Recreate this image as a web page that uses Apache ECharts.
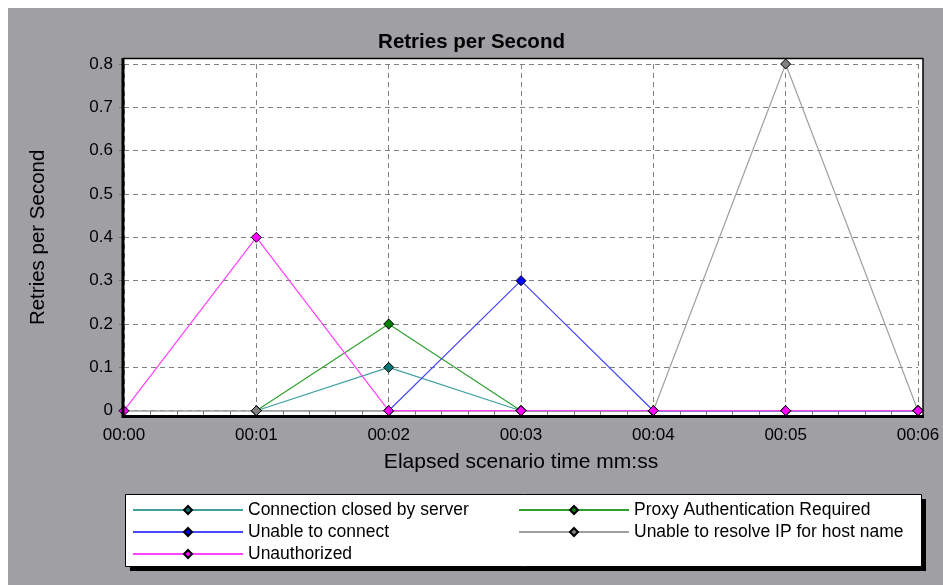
<!DOCTYPE html>
<html>
<head>
<meta charset="utf-8">
<script src="https://cdn.jsdelivr.net/npm/echarts@6/dist/echarts.min.js"></script>
<style>
html,body{margin:0;padding:0;background:#fff;}
#chart{width:943px;height:585px;}
</style>
</head>
<body>
<div id="chart"></div>
<script>
const categories = ['00:00','00:01','00:02','00:03','00:04','00:05','00:06'];
const yTicks = [0, 0.1, 0.2, 0.3, 0.4, 0.5, 0.6, 0.7, 0.8];
const connClosed   = [null, 0, 0.1, 0, 0, 0, 0];
const proxyAuth    = [null, 0, 0.2, 0, 0, 0, 0];
const unableConn   = [null, null, 0, 0.3, 0, 0, 0];
const unableResolve= [null, 0, 0, 0, 0, 0.8, 0];
const unauthorized = [0, 0.4, 0, 0, 0, 0, 0];
const seriesNames = ['Connection closed by server','Proxy Authentication Required','Unable to connect','Unable to resolve IP for host name','Unauthorized'];

const FONT = 'Liberation Sans, Arial, sans-serif';
function pairs(arr){ const out=[]; arr.forEach((v,i)=>{ if(v!==null) out.push([i,v]); }); return out; }
function mk(name, arr, lineColor, markColor){
  return {
    name: name, type: 'line', data: pairs(arr),
    symbol: 'diamond', symbolSize: 10, showSymbol: true,
    lineStyle: {color: lineColor, width: 1.2},
    itemStyle: {color: markColor, borderColor: '#000', borderWidth: 1},
    emphasis: {disabled: true}, animation: false, clip: false
  };
}
const chart = echarts.init(document.getElementById('chart'), null, {renderer:'canvas'});
const gL = 124, gR = 943-918, gT = 64, gB = 585-410.7;
const legendCommon = {
  orient: 'vertical', top: 501, itemWidth: 110, itemHeight: 10, itemGap: 4, itemTextGap: 5, padding: 0,
  textStyle: {fontFamily: FONT, fontSize: 17.5, color: '#000', lineHeight: 18}, z: 20, selectedMode: false
};
chart.setOption({
  backgroundColor: '#a0a0a4',
  animation: false,
  title: {text: 'Retries per Second', left: 'center', top: 27,
    textStyle: {fontFamily: 'Liberation Sans, Arial', fontWeight: 'bold', fontSize: 20.5, color: '#000'}},
  grid: {left: gL, right: gR, top: gT, bottom: gB},
  xAxis: [{
    type: 'value', min: 0, max: 6, interval: 1, offset: 6,
    name: 'Elapsed scenario time mm:ss', nameLocation: 'middle', nameGap: 35,
    nameTextStyle: {fontFamily: FONT, fontSize: 21, color: '#000'},
    axisLine: {show: false},
    axisTick: {show: true, length: 6, lineStyle: {color: '#707070', width: 1}},
    minorTick: {show: true, splitNumber: 5, length: 4, lineStyle: {color: '#707070'}},
    axisLabel: {fontFamily: FONT, fontSize: 17, color: '#000', margin: 10,
      formatter: v => categories[v] !== undefined ? categories[v] : ''},
    splitLine: {show: true, lineStyle: {color: '#808080', type: [5,4], width: 1}}
  },{
    type: 'value', min: 0, max: 6, position: 'bottom',
    axisLine: {show: true, lineStyle: {color: '#a0a0a0', width: 1.5}},
    axisTick: {show: false}, axisLabel: {show: false}, splitLine: {show: false}
  }],
  yAxis: {
    type: 'value', min: 0, max: 0.8, interval: 0.1, offset: 1,
    name: 'Retries per Second', nameLocation: 'middle', nameGap: 74,
    nameTextStyle: {fontFamily: FONT, fontSize: 20.5, color: '#000'},
    axisLine: {show: false},
    axisTick: {show: true, length: 5, lineStyle: {color: '#707070'}},
    minorTick: {show: true, splitNumber: 5, length: 3, lineStyle: {color: '#707070'}},
    axisLabel: {fontFamily: FONT, fontSize: 17, color: '#000', margin: 10,
      formatter: v => { const t = yTicks.find(x => Math.abs(x - v) < 1e-6); return t === 0 ? '0' : String(t); }},
    splitLine: {show: true, lineStyle: {color: '#808080', type: [5,4], width: 1}}
  },
  legend: [
    Object.assign({data: [seriesNames[0], seriesNames[2], seriesNames[4]], left: 132}, legendCommon),
    Object.assign({data: [seriesNames[1], seriesNames[3]], left: 518}, legendCommon)
  ],
  graphic: {elements: [
    {id: 'wt', type: 'rect', shape: {x: 0, y: 0, width: 943, height: 8}, style: {fill: '#fff'}, z: -5, silent: true},
    {id: 'wl', type: 'rect', shape: {x: 0, y: 0, width: 8, height: 585}, style: {fill: '#fff'}, z: -5, silent: true},
    {id: 'pbg', type: 'rect', shape: {x: 123, y: 58, width: 800, height: 359}, style: {fill: '#fff'}, z: -1, silent: true},
    {id: 'ft', type: 'line', shape: {x1: 123, y1: 58.5, x2: 923, y2: 58.5}, style: {stroke: '#000', lineWidth: 1.5}, z: 10, silent: true},
    {id: 'fr', type: 'line', shape: {x1: 923, y1: 58, x2: 923, y2: 418}, style: {stroke: '#000', lineWidth: 1.5}, z: 10, silent: true},
    {id: 'fl', type: 'line', shape: {x1: 123, y1: 58, x2: 123, y2: 418}, style: {stroke: '#000', lineWidth: 3}, z: 10, silent: true},
    {id: 'fb', type: 'line', shape: {x1: 122, y1: 416.5, x2: 924, y2: 416.5}, style: {stroke: '#000', lineWidth: 3}, z: 10, silent: true},
    {id: 'shb', type: 'line', shape: {x1: 130, y1: 569, x2: 926, y2: 569}, style: {stroke: '#000', lineWidth: 4}, z: 3, silent: true},
    {id: 'shr', type: 'line', shape: {x1: 924, y1: 499, x2: 924, y2: 571}, style: {stroke: '#000', lineWidth: 4}, z: 3, silent: true},
    {id: 'lbox', type: 'rect', shape: {x: 125.5, y: 494.5, width: 796, height: 72},
      style: {fill: '#fff', stroke: '#000', lineWidth: 1}, z: 4, silent: true}
  ]},
  series: [
    mk(seriesNames[0], connClosed, '#40a0a0', '#007878'),
    mk(seriesNames[1], proxyAuth, '#30a030', '#008000'),
    mk(seriesNames[2], unableConn, '#4848ff', '#0000ff'),
    mk(seriesNames[3], unableResolve, '#a0a0a0', '#808080'),
    mk(seriesNames[4], unauthorized, '#ff40ff', '#ff00ff')
  ]
});
</script>
</body>
</html>
